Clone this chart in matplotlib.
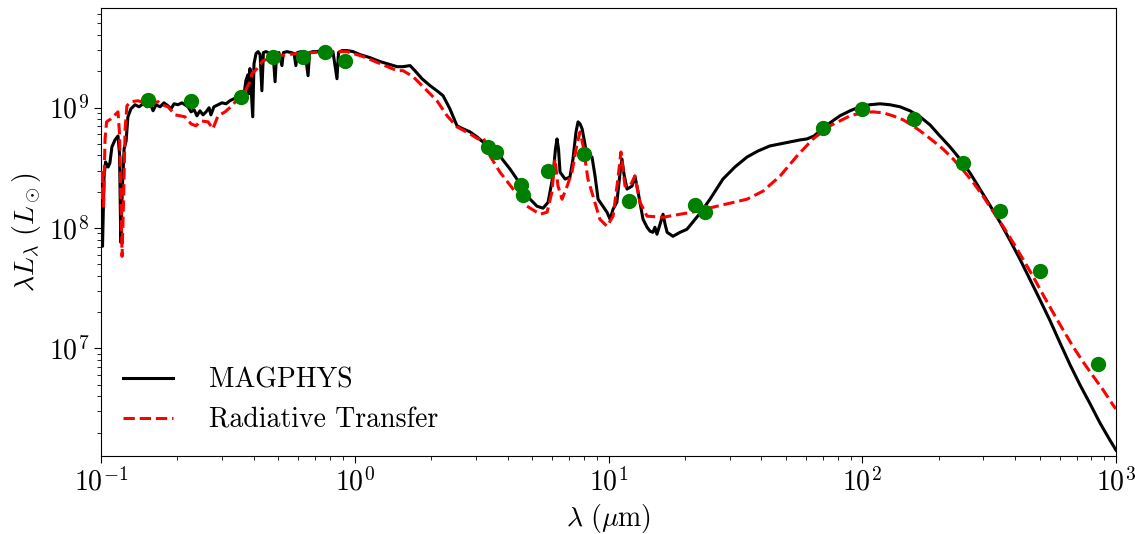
import numpy as np
import matplotlib
matplotlib.use("Agg")
import matplotlib.pyplot as plt

plt.rcParams['font.family'] = 'serif'
plt.rcParams['font.serif'] = ['cmr10', 'DejaVu Serif']
plt.rcParams['mathtext.fontset'] = 'cm'
plt.rcParams['axes.formatter.use_mathtext'] = True
plt.rcParams['axes.unicode_minus'] = False

# MAGPHYS model (log10 wavelength [um], log10 lambda L_lambda [Lsun])
mag_loglam = [-0.999, -0.994, -0.988, -0.982, -0.972, -0.965, -0.957, -0.945, -0.933, -0.927,
              -0.922, -0.916, -0.909, -0.901, -0.894, -0.882, -0.866, -0.850, -0.834, -0.819,
              -0.807, -0.795, -0.783, -0.767, -0.752, -0.736, -0.724, -0.712, -0.697, -0.681,
              -0.669, -0.657, -0.645, -0.633, -0.622, -0.610, -0.598, -0.586, -0.574, -0.567,
              -0.555, -0.539, -0.523, -0.507, -0.492, -0.476, -0.460, -0.448, -0.436, -0.429,
              -0.421, -0.417, -0.413, -0.402, -0.397, -0.389, -0.381, -0.373, -0.366, -0.360,
              -0.350, -0.334, -0.322, -0.314, -0.308, -0.299, -0.287, -0.281, -0.267, -0.251,
              -0.239, -0.232, -0.226, -0.212, -0.196, -0.184, -0.178, -0.165, -0.149, -0.133,
              -0.117, -0.101, -0.086, -0.070, -0.064, -0.050, -0.031, -0.007, 0.021, 0.060,
              0.100, 0.139, 0.167, 0.190, 0.218, 0.237, 0.265, 0.297, 0.324, 0.348,
              0.375, 0.403, 0.427, 0.454, 0.482, 0.505, 0.533, 0.561, 0.584, 0.612,
              0.639, 0.663, 0.691, 0.718, 0.742, 0.762, 0.781, 0.791, 0.797, 0.803,
              0.809, 0.829, 0.848, 0.860, 0.872, 0.880, 0.888, 0.896, 0.907, 0.915,
              0.935, 0.947, 0.959, 0.978, 0.994, 1.006, 1.018, 1.033, 1.045, 1.053,
              1.061, 1.073, 1.093, 1.104, 1.116, 1.124, 1.136, 1.152, 1.164, 1.175,
              1.183, 1.191, 1.203, 1.215, 1.223, 1.231, 1.254, 1.282, 1.309, 1.361,
              1.400, 1.451, 1.498, 1.546, 1.589, 1.636, 1.676, 1.715, 1.755, 1.782,
              1.810, 1.833, 1.873, 1.912, 1.952, 1.991, 2.030, 2.070, 2.109, 2.149,
              2.188, 2.228, 2.267, 2.306, 2.346, 2.385, 2.425, 2.464, 2.503, 2.543,
              2.582, 2.622, 2.661, 2.700, 2.740, 2.779, 2.819, 2.858, 2.898, 2.937,
              2.976, 3.000]
mag_logL = [8.448, 7.848, 8.423, 8.548, 8.506, 8.539, 8.673, 8.731, 8.764, 8.614,
            7.881, 8.323, 8.656, 8.723, 8.923, 8.989, 9.023, 9.006, 9.031, 9.006,
            9.039, 8.973, 9.023, 9.006, 9.039, 9.014, 8.989, 9.031, 9.023, 9.039,
            9.023, 9.006, 8.964, 8.981, 8.931, 8.973, 8.939, 8.964, 8.998, 8.939,
            9.006, 9.023, 9.039, 9.031, 9.056, 9.073, 9.081, 9.098, 9.114, 9.223,
            9.272, 9.114, 9.323, 8.923, 9.364, 9.448, 9.464, 9.439, 9.139, 9.456,
            9.464, 9.448, 9.456, 9.214, 9.448, 9.456, 9.348, 9.456, 9.464, 9.456,
            9.448, 9.348, 9.456, 9.464, 9.456, 9.264, 9.456, 9.464, 9.464, 9.473,
            9.464, 9.473, 9.464, 9.239, 9.456, 9.473, 9.473, 9.464, 9.439, 9.414,
            9.381, 9.356, 9.339, 9.339, 9.348, 9.306, 9.239, 9.181, 9.139, 9.098,
            8.989, 8.848, 8.823, 8.798, 8.756, 8.714, 8.673, 8.631, 8.564, 8.489,
            8.406, 8.323, 8.239, 8.181, 8.164, 8.214, 8.431, 8.656, 8.739, 8.656,
            8.464, 8.406, 8.423, 8.573, 8.798, 8.881, 8.864, 8.823, 8.698, 8.598,
            8.589, 8.431, 8.239, 8.181, 8.131, 8.073, 8.156, 8.214, 8.448, 8.573,
            8.448, 8.323, 8.348, 8.431, 8.306, 8.214, 8.073, 8.006, 7.973, 7.964,
            8.006, 7.948, 8.031, 8.114, 8.031, 7.964, 7.931, 7.964, 7.989, 8.123,
            8.239, 8.406, 8.506, 8.589, 8.639, 8.681, 8.698, 8.714, 8.731, 8.739,
            8.764, 8.806, 8.873, 8.931, 8.973, 9.006, 9.023, 9.031, 9.023, 9.006,
            8.973, 8.923, 8.856, 8.764, 8.673, 8.573, 8.456, 8.323, 8.189, 8.048,
            7.898, 7.739, 7.573, 7.406, 7.231, 7.048, 6.864, 6.698, 6.540, 6.381,
            6.239, 6.156]

# Radiative transfer model
rt_loglam = [-0.999, -0.994, -0.990, -0.984, -0.978, -0.961, -0.945, -0.933, -0.927, -0.923,
             -0.917, -0.911, -0.905, -0.898, -0.882, -0.854, -0.815, -0.775, -0.760, -0.736,
             -0.708, -0.669, -0.645, -0.626, -0.606, -0.578, -0.559, -0.539, -0.511, -0.484,
             -0.460, -0.433, -0.413, -0.405, -0.385, -0.362, -0.334, -0.295, -0.228, -0.165,
             -0.098, -0.031, 0.033, 0.100, 0.167, 0.190, 0.230, 0.269, 0.324, 0.364,
             0.403, 0.454, 0.486, 0.505, 0.521, 0.533, 0.572, 0.624, 0.679, 0.730,
             0.758, 0.777, 0.789, 0.801, 0.817, 0.837, 0.856, 0.876, 0.888, 0.900,
             0.919, 0.939, 0.966, 0.994, 1.018, 1.037, 1.049, 1.065, 1.085, 1.104,
             1.124, 1.152, 1.215, 1.282, 1.349, 1.412, 1.479, 1.546, 1.609, 1.676,
             1.743, 1.806, 1.873, 1.952, 1.999, 2.042, 2.082, 2.121, 2.161, 2.200,
             2.239, 2.279, 2.318, 2.358, 2.397, 2.436, 2.476, 2.515, 2.555, 2.594,
             2.634, 2.673, 2.712, 2.752, 2.791, 2.831, 2.870, 2.909, 2.949, 2.988,
             3.000]
rt_logL = [8.239, 8.489, 8.181, 8.739, 8.881, 8.906, 8.939, 8.964, 8.781, 8.406,
           7.764, 8.239, 8.823, 9.014, 9.048, 9.056, 9.031, 9.048, 9.023, 9.006,
           8.939, 8.923, 8.864, 8.848, 8.889, 8.881, 8.823, 8.931, 8.964, 9.014,
           9.073, 9.131, 9.214, 9.281, 9.323, 9.389, 9.406, 9.431, 9.448, 9.456,
           9.464, 9.464, 9.423, 9.364, 9.306, 9.306, 9.256, 9.173, 9.056, 8.931,
           8.839, 8.781, 8.739, 8.756, 8.681, 8.598, 8.464, 8.323, 8.181, 8.114,
           8.131, 8.298, 8.573, 8.348, 8.239, 8.348, 8.464, 8.698, 8.798, 8.681,
           8.406, 8.264, 8.073, 8.014, 8.098, 8.406, 8.631, 8.348, 8.348, 8.431,
           8.214, 8.098, 8.089, 8.114, 8.139, 8.173, 8.206, 8.239, 8.306, 8.431,
           8.598, 8.739, 8.848, 8.931, 8.956, 8.964, 8.956, 8.931, 8.898, 8.848,
           8.789, 8.723, 8.656, 8.573, 8.481, 8.381, 8.264, 8.139, 8.014, 7.881,
           7.739, 7.598, 7.448, 7.298, 7.156, 7.014, 6.889, 6.773, 6.656, 6.531,
           6.498]

# Observed photometry
obs_lam = [0.153, 0.227, 0.355, 0.477, 0.623, 0.763, 0.913, 3.35, 3.6, 4.5, 4.6, 5.8,
           8.0, 12.0, 22.0, 24.0, 70.0, 100.0, 160.0, 250.0, 350.0, 500.0, 850.0]
obs_L = [1.16e9, 1.14e9, 1.23e9, 2.65e9, 2.65e9, 2.91e9, 2.45e9, 4.71e8, 4.28e8, 2.27e8,
         1.87e8, 2.97e8, 4.11e8, 1.67e8, 1.55e8, 1.35e8, 6.78e8, 9.75e8, 8.05e8, 3.46e8,
         1.38e8, 4.36e7, 7.46e6]

fig = plt.figure(figsize=(11.35, 5.34), dpi=100)
ax = fig.add_axes([101/1135, 78/534, 1015/1135, 448/534])

ax.plot(10**np.array(mag_loglam), 10**np.array(mag_logL), color='black', lw=2.2,
        label='MAGPHYS', zorder=2)
ax.plot(10**np.array(rt_loglam), 10**np.array(rt_logL), color='red', lw=2.2, ls='--',
        label='Radiative Transfer', zorder=3)
ax.plot(obs_lam, obs_L, 'o', color='green', ms=10, zorder=4)

ax.set_xscale('log')
ax.set_yscale('log')
ax.set_xlim(0.1, 1000)
ax.set_ylim(1.28e6, 6.7e9)
ax.tick_params(labelsize=20)
ax.tick_params(which='major', length=5)
ax.tick_params(which='minor', length=3)
ax.set_xlabel(r'$\lambda\ (\mu$m$)$', fontsize=20)
ax.set_ylabel(r'$\lambda L_\lambda\ (L_\odot)$', fontsize=20)
ax.legend(loc='lower left', frameon=False, fontsize=20, bbox_to_anchor=(0.0, 0.0),
          borderaxespad=0.4, handlelength=1.8, handletextpad=1.3)

fig.savefig('out.png', dpi=100)
